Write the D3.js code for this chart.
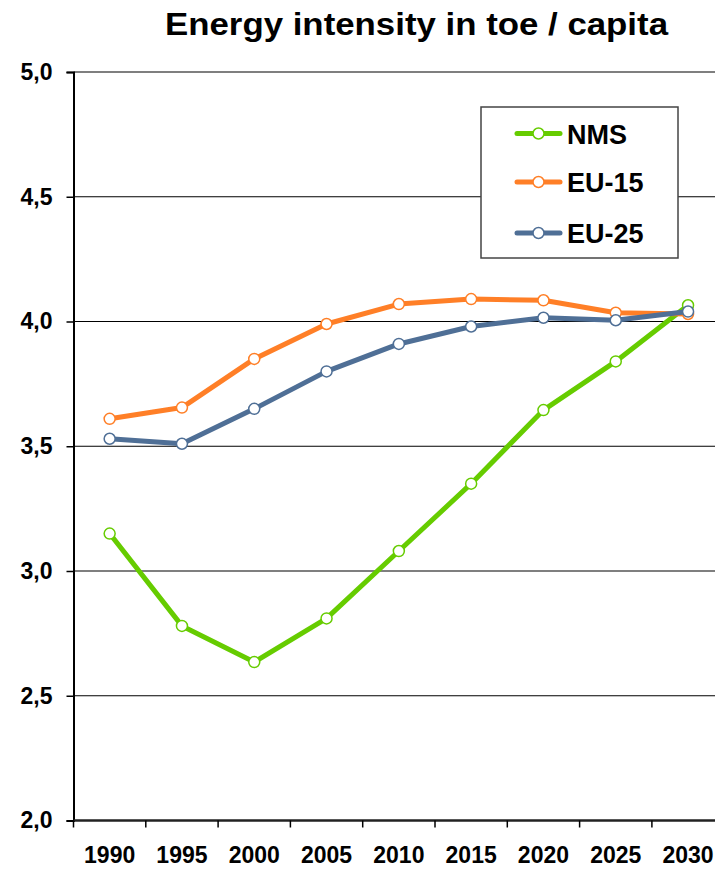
<!DOCTYPE html>
<html>
<head>
<meta charset="utf-8">
<script src="https://cdn.jsdelivr.net/npm/d3@7"></script>
<style>
  html, body { margin: 0; padding: 0; background: #fff; }
  svg { display: block; font-family: "Liberation Sans", Arial, sans-serif; }
</style>
</head>
<body>
<svg id="chart" width="715" height="870"></svg>
<script>
const years = ["1990","1995","2000","2005","2010","2015","2020","2025","2030"];
const nms  = [3.15, 2.78, 2.635, 2.81, 3.08, 3.35, 3.645, 3.84, 4.065];
const eu15 = [3.61, 3.655, 3.85, 3.99, 4.07, 4.09, 4.085, 4.035, 4.03];
const eu25 = [3.53, 3.51, 3.65, 3.80, 3.91, 3.98, 4.015, 4.005, 4.04];
const yTicks = [2.0, 2.5, 3.0, 3.5, 4.0, 4.5, 5.0];
const seriesNames = ["NMS", "EU-15", "EU-25"];
const seriesColors = ["#66cc00", "#ff7f27", "#4f6f96"];
const chartTitle = "Energy intensity in toe / capita";

const svg = d3.select("#chart");
const plotLeft = 73.5, plotTop = 72, plotBottom = 820.5;
const x = d3.scaleBand().domain(years).range([plotLeft, plotLeft + 9 * 72.3]);
const y = d3.scaleLinear().domain([2, 5]).range([plotBottom, plotTop]);
const fmt = v => d3.format(".1f")(v).replace(".", ",");

// title
svg.append("text")
  .attr("x", 165).attr("y", 35)
  .attr("font-size", 32).attr("font-weight", "bold")
  .attr("textLength", 503).attr("lengthAdjust", "spacingAndGlyphs")
  .text(chartTitle);

// gridlines
svg.append("g").selectAll("line").data(yTicks.filter(d => d > 2))
  .join("line")
  .attr("x1", plotLeft).attr("x2", 715)
  .attr("y1", d => y(d)).attr("y2", d => y(d))
  .attr("stroke", "#000").attr("stroke-width", 1.2);

// y axis
const yAxis = d3.axisLeft(y).tickValues(yTicks).tickFormat(fmt).tickSize(7).tickPadding(14);
const gy = svg.append("g").attr("transform", `translate(${plotLeft},0)`).call(yAxis);
gy.select(".domain").attr("stroke", "#000").attr("stroke-width", 2);
gy.selectAll(".tick line").attr("stroke", "#000").attr("stroke-width", 1.5);
gy.selectAll(".tick text").attr("font-size", 23).attr("font-weight", "bold")
  .attr("fill", "#000").attr("font-family", "Liberation Sans, Arial, sans-serif");

// x axis
const xAxis = d3.axisBottom(x).tickSize(0).tickPadding(26);
const gx = svg.append("g").attr("transform", `translate(0,${plotBottom})`).call(xAxis);
gx.select(".domain").remove();
gx.append("line").attr("x1", plotLeft).attr("x2", 715).attr("y1", 0).attr("y2", 0)
  .attr("stroke", "#222").attr("stroke-width", 2.5);
gx.selectAll(".tick text").attr("font-size", 23).attr("font-weight", "bold")
  .attr("fill", "#000").attr("font-family", "Liberation Sans, Arial, sans-serif");
// band boundary ticks
svg.append("g").selectAll("line").data(years)
  .join("line")
  .attr("x1", d => x(d)).attr("x2", d => x(d))
  .attr("y1", plotBottom).attr("y2", plotBottom + 7)
  .attr("stroke", "#000").attr("stroke-width", 1.5);

// legend box
const lg = svg.append("g");
lg.append("rect").attr("x", 481).attr("y", 107).attr("width", 197).attr("height", 151)
  .attr("fill", "#fff").attr("stroke", "#444").attr("stroke-width", 1.5);

// series
const data = [nms, eu15, eu25];
const cx = d => x(d) + x.bandwidth() / 2;
const line = d3.line().x((d, i) => cx(years[i])).y(d => y(d));
data.forEach((vals, si) => {
  const g = svg.append("g");
  g.append("path").datum(vals).attr("d", line)
    .attr("fill", "none").attr("stroke", seriesColors[si])
    .attr("stroke-width", 5).attr("stroke-linejoin", "round");
  g.selectAll("circle").data(vals).join("circle")
    .attr("cx", (d, i) => cx(years[i])).attr("cy", d => y(d)).attr("r", 5.5)
    .attr("fill", "#fff").attr("stroke", seriesColors[si]).attr("stroke-width", 1.5);
});

// legend entries
const legRows = [133.5, 182, 233];
seriesNames.forEach((name, i) => {
  const r = lg.append("g");
  r.append("line").attr("x1", 517).attr("x2", 560).attr("y1", legRows[i]).attr("y2", legRows[i])
    .attr("stroke", seriesColors[i]).attr("stroke-width", 5).attr("stroke-linecap", "round");
  r.append("circle").attr("cx", 538.5).attr("cy", legRows[i]).attr("r", 5.5)
    .attr("fill", "#fff").attr("stroke", seriesColors[i]).attr("stroke-width", 1.5);
  r.append("text").attr("x", 567).attr("y", legRows[i] + 10)
    .attr("font-size", 27).attr("font-weight", "bold").attr("fill", "#000")
    .text(name);
});
</script>
</body>
</html>
